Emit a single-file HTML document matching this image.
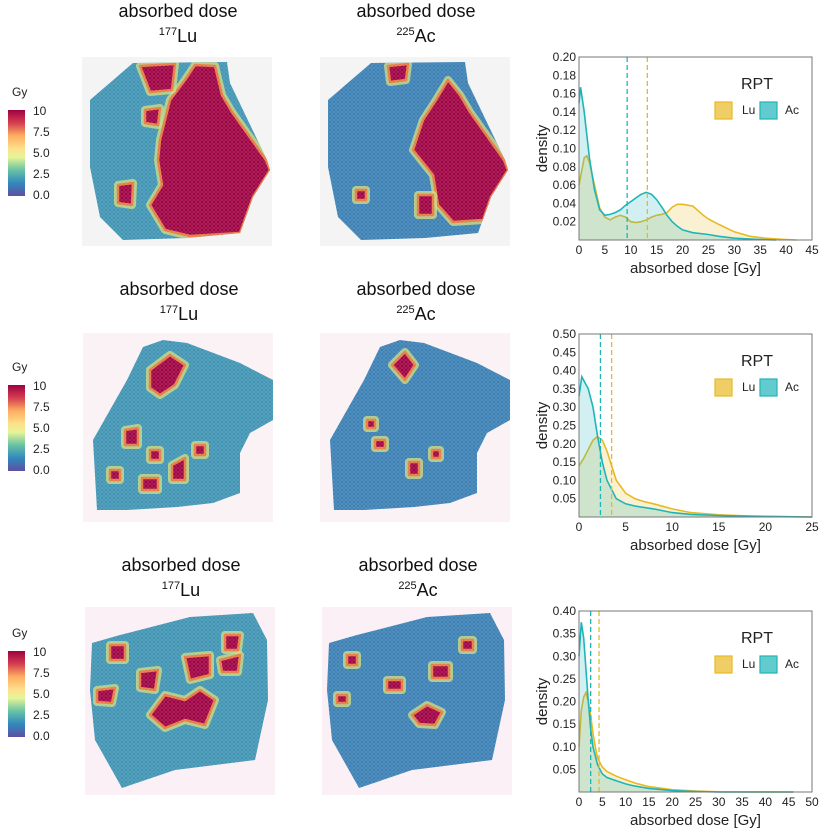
<!DOCTYPE html>
<html><head><meta charset="utf-8">
<style>
html,body{margin:0;padding:0;background:#fff;}
svg{display:block;font-family:"Liberation Sans",Arial,sans-serif;}
</style></head>
<body>
<svg id="fig" width="825" height="838" viewBox="0 0 825 838">
<defs>
<linearGradient id="cbar" x1="0" y1="1" x2="0" y2="0">
<stop offset="0" stop-color="#5e4fa2"/><stop offset="0.15" stop-color="#3288bd"/><stop offset="0.3" stop-color="#66c2a5"/>
<stop offset="0.45" stop-color="#e6f598"/><stop offset="0.55" stop-color="#fee08b"/><stop offset="0.7" stop-color="#fdae61"/>
<stop offset="0.85" stop-color="#d53e4f"/><stop offset="1" stop-color="#9e0142"/>
</linearGradient>
<pattern id="hex" width="4" height="4" patternUnits="userSpaceOnUse"><circle cx="2" cy="2" r="1.6" fill="none" stroke="#ffffff" stroke-opacity="0.18" stroke-width="0.6"/></pattern>
</defs>
<g id="maps"></g>
<g id="charts"></g>
</svg>
<script>
// ---- data ----
const luX1=[0,1,1.5,2,3,4,5,6,7,8,9,10,11,12,13,14,15,16,17,18,19,20,21,22,23,24,25,27,30,33,36,40,42];
const luY1=[0.06,0.09,0.092,0.085,0.06,0.035,0.025,0.022,0.025,0.027,0.025,0.02,0.019,0.02,0.022,0.025,0.027,0.028,0.03,0.036,0.039,0.039,0.038,0.037,0.032,0.027,0.023,0.017,0.009,0.004,0.002,0.0005,0];
const acX1=[0,0.3,1,2,3,4,5,6,7,8,9,10,11,12,13,14,15,16,17,18,19,20,22,25,27,30,35,38];
const acY1=[0.15,0.167,0.14,0.09,0.055,0.033,0.027,0.028,0.03,0.033,0.038,0.042,0.046,0.05,0.052,0.05,0.044,0.036,0.027,0.02,0.015,0.011,0.008,0.006,0.004,0.002,0.0005,0];
const luX2=[0,0.5,1,1.5,2,2.5,3,3.5,4,5,6,7,8,10,12,15,18,22,25];
const luY2=[0.14,0.16,0.185,0.21,0.22,0.21,0.18,0.14,0.1,0.065,0.05,0.042,0.036,0.022,0.012,0.006,0.003,0.001,0];
const acX2=[0,0.3,1,1.5,2,2.5,3,4,5,6,8,10,12,15,20,25];
const acY2=[0.33,0.383,0.35,0.3,0.22,0.15,0.1,0.05,0.036,0.03,0.022,0.012,0.007,0.004,0.001,0];
const luX3=[0,0.5,1,1.5,2,2.5,3,3.5,4,5,6,8,10,12,15,20,25,30,46];
const luY3=[0.1,0.18,0.21,0.22,0.2,0.17,0.13,0.1,0.075,0.055,0.045,0.035,0.027,0.02,0.012,0.005,0.002,0.0005,0];
const acX3=[0,0.5,1,1.5,2,2.5,3,4,5,6,8,10,12,15,20,25,30,46];
const acY3=[0.3,0.375,0.34,0.27,0.2,0.14,0.1,0.06,0.04,0.032,0.025,0.018,0.013,0.008,0.003,0.001,0,0];
const medians1=[13.2,9.3], medians2=[3.5,2.3], medians3=[4.3,2.5];
const yTicks1=[0.02,0.04,0.06,0.08,0.10,0.12,0.14,0.16,0.18,0.20];
const yTicks2=[0.05,0.10,0.15,0.20,0.25,0.30,0.35,0.40,0.45,0.50];
const yTicks3=[0.05,0.10,0.15,0.20,0.25,0.30,0.35,0.40];
const xTicks1=[0,5,10,15,20,25,30,35,40,45];
const xTicks2=[0,5,10,15,20,25];
const xTicks3=[0,5,10,15,20,25,30,35,40,45,50];
const cbarTicks=["0.0","2.5","5.0","7.5","10"];

const NS="http://www.w3.org/2000/svg";
function mk(tag,attrs,parent){const e=document.createElementNS(NS,tag);for(const k in attrs)e.setAttribute(k,attrs[k]);parent.appendChild(e);return e;}
const maps=document.getElementById('maps'), charts=document.getElementById('charts');
const LU="#e8b923", AC="#1fb5b8";

// ---- charts ----
const panels=[
 {top:57,bot:240,ymax:0.20,xmax:45,yt:yTicks1,xt:xTicks1,lu:[luX1,luY1],ac:[acX1,acY1],med:medians1},
 {top:334,bot:517,ymax:0.50,xmax:25,yt:yTicks2,xt:xTicks2,lu:[luX2,luY2],ac:[acX2,acY2],med:medians2},
 {top:611,bot:792,ymax:0.40,xmax:50,yt:yTicks3,xt:xTicks3,lu:[luX3,luY3],ac:[acX3,acY3],med:medians3}
];
panels.forEach((p,i)=>{
 const L=579,R=812;
 const xs=v=>L+(R-L)*v/p.xmax, ys=v=>p.bot-(p.bot-p.top)*v/p.ymax;
 const g=mk('g',{},charts);
 
 
 function area(X,Y,col,name){
  let d='M'+xs(X[0])+','+ys(0);
  X.forEach((x,j)=>{d+=' L'+xs(x).toFixed(1)+','+ys(Y[j]).toFixed(1);});
  d+=' L'+xs(X[X.length-1])+','+ys(0)+'Z';
  const a=mk('path',{d:d,fill:col,'fill-opacity':0.2,stroke:'none'},g);
  
  
  let d2='';X.forEach((x,j)=>{d2+=(j?' L':'M')+xs(x).toFixed(1)+','+ys(Y[j]).toFixed(1);});
  const l=mk('path',{d:d2,fill:'none',stroke:col,'stroke-width':1.6},g);
  
  
 }
 area(p.lu[0],p.lu[1],LU,'lu-density');
 area(p.ac[0],p.ac[1],AC,'ac-density');
 const m1=mk('line',{x1:xs(p.med[0]),x2:xs(p.med[0]),y1:p.top,y2:p.bot,stroke:LU,'stroke-dasharray':'5,3','stroke-width':1.3},g);
 
 
 const m2=mk('line',{x1:xs(p.med[1]),x2:xs(p.med[1]),y1:p.top,y2:p.bot,stroke:AC,'stroke-dasharray':'5,3','stroke-width':1.3},g);
 
 
 const fr=mk('rect',{x:L,y:p.top,width:R-L,height:p.bot-p.top,fill:'none',stroke:'#777','stroke-width':1},g);
 
 
 p.yt.forEach(v=>{
  const t=mk('text',{x:L-3,y:ys(v)+4,'text-anchor':'end','font-size':12,fill:'#222'},g);
  t.textContent=v.toFixed(2);
  
  
 });
 p.xt.forEach(v=>{
  const t=mk('text',{x:xs(v),y:p.bot+14,'text-anchor':'middle','font-size':12,fill:'#222'},g);
  t.textContent=v;
  
  
 });
 const xl=mk('text',{x:(L+R)/2,y:p.bot+33,'text-anchor':'middle','font-size':15,fill:'#222'},g);
 xl.textContent='absorbed dose [Gy]';
 
 
 const yc=(p.top+p.bot)/2;
 const yl=mk('text',{x:547,y:yc,'text-anchor':'middle','font-size':15,fill:'#222',transform:'rotate(-90 547 '+yc+')'},g);
 yl.textContent='density';
 
 
 const lg=mk('g',{},g);
 
 
 const ty=p.top+26;
 const rt=mk('text',{x:757,y:ty+6,'text-anchor':'middle','font-size':16,fill:'#222'},lg);
 rt.textContent='RPT';
 
 
 [[715,LU,'Lu',742],[760,AC,'Ac',785]].forEach(e=>{
  const b=mk('rect',{x:e[0],y:ty+19,width:17,height:17,fill:e[1],'fill-opacity':0.7,stroke:e[1],'stroke-width':1.2},lg);
  
  
  const t=mk('text',{x:e[3],y:ty+31,'font-size':12,fill:'#222'},lg);
  t.textContent=e[2];
  
  
 });
});

// ---- maps ----
// regions: polygons [points] in col-1 coordinates
const rows=[
 {bx:[82,320],by:[57,246],bg:'#f4f4f4',ty:17,base:['#3f93b3','#3a7fb3'],
  shape:[[90,100],[133,63],[227,62],[230,83],[267,160],[270,170],[253,197],[240,233],[187,238],[123,240],[100,217],[90,167]],
  red1:[[[160,140],[170,100],[185,80],[195,65],[215,66],[222,95],[232,112],[266,160],[270,170],[253,197],[240,233],[190,236],[165,230],[150,205],[162,185],[158,160]],
        [[140,66],[175,64],[172,90],[150,92]],[[118,185],[133,183],[132,205],[118,203]],[[145,110],[160,108],[158,125],[145,123]]],
  red2:[[[175,150],[185,120],[198,100],[210,80],[222,95],[232,112],[266,160],[270,170],[253,197],[245,220],[215,222],[200,205],[195,175]],
        [[150,66],[170,64],[168,80],[152,82]],[[180,195],[195,195],[195,215],[180,215]],[[118,190],[128,190],[128,200],[118,200]]]},
 {bx:[83,320],by:[333,522],bg:'#fbf2f5',ty:295,base:['#3f93b3','#3a7fb3'],
  shape:[[143,347],[163,340],[187,343],[240,363],[273,380],[273,420],[250,433],[240,453],[240,493],[213,503],[177,507],[127,510],[97,510],[93,440],[127,380]],
  red1:[[[150,370],[170,355],[185,365],[175,385],[160,395],[150,388]],[[125,430],[138,428],[138,445],[125,445]],[[172,465],[185,458],[185,480],[172,480]],[[142,478],[158,478],[158,490],[142,490]],[[150,450],[160,450],[160,460],[150,460]],[[195,445],[205,445],[205,455],[195,455]],[[110,470],[120,470],[120,480],[110,480]]],
  red2:[[[155,365],[168,352],[178,365],[168,380]],[[172,462],[182,462],[182,475],[172,475]],[[138,440],[148,440],[148,448],[138,448]],[[195,450],[203,450],[203,458],[195,458]],[[130,420],[138,420],[138,428],[130,428]]]},
 {bx:[85,322],by:[607,795],bg:'#fbf0f5',ty:571,base:['#3f93b3','#3a7fb3'],
  shape:[[92,643],[120,635],[190,617],[253,613],[267,640],[268,700],[255,760],[175,770],[122,788],[95,740],[90,690]],
  red1:[[[150,715],[165,695],[185,700],[200,690],[215,700],[205,725],[185,720],[165,728]],[[140,672],[158,670],[155,690],[140,688]],[[185,657],[210,655],[210,675],[190,680]],[[225,635],[240,635],[238,650],[225,650]],[[97,690],[115,688],[112,703],[97,702]],[[110,645],[125,645],[125,660],[110,660]],[[220,660],[240,655],[238,672],[222,672]]],
  red2:[[[175,715],[190,705],[205,712],[198,725],[182,724]],[[195,665],[212,665],[212,678],[195,678]],[[150,680],[165,680],[165,690],[150,690]],[[225,640],[236,640],[236,650],[225,650]],[[110,655],[120,655],[120,665],[110,665]],[[100,695],[110,695],[110,703],[100,703]]]}
];
rows.forEach((r,i)=>{
 [0,1].forEach(c=>{
  const dx=r.bx[c]-r.bx[0];
  const g=mk('g',{},maps);
  
  
  const bg=mk('rect',{x:r.bx[c],y:r.by[0],width:190,height:r.by[1]-r.by[0],fill:r.bg},g);
  
  
  const pts=r.shape.map(p=>(p[0]+dx)+','+p[1]).join(' ');
  const id='clip'+i+c;
  const cp=mk('clipPath',{id:id},g);mk('polygon',{points:pts},cp);
  const tis=mk('polygon',{points:pts,fill:r.base[c]},g);
  
  
  const cl=mk('g',{'clip-path':'url(#'+id+')'},g);
  (c?r.red2:r.red1).forEach(poly=>{
   const pp=poly.map(p=>(p[0]+dx)+','+p[1]).join(' ');
   mk('polygon',{points:pp,fill:'#9e0142',stroke:'#c9d97a','stroke-width':8,'stroke-linejoin':'round','stroke-opacity':0.8},cl);
   mk('polygon',{points:pp,fill:'#9e0142',stroke:'#e8763f','stroke-width':2.5,'stroke-linejoin':'round'},cl);
  });
  mk('polygon',{points:pts,fill:'url(#hex)'},g);
  const cx=r.bx[c]+96;
  const t1=mk('text',{x:cx,y:r.ty,'text-anchor':'middle','font-size':18,fill:'#111'},g);
  t1.textContent='absorbed dose';
  
  
  const t2=mk('text',{x:cx,y:r.ty+25,'text-anchor':'middle','font-size':18,fill:'#111'},g);
  const s=mk('tspan',{'font-size':11,dy:-7},t2);s.textContent=c?'225':'177';
  const s2=mk('tspan',{dy:7},t2);s2.textContent=c?'Ac':'Lu';
  
  
 });
 const cy=[110,385,651][i];
 const cg=mk('g',{},maps);
 
 
 const gy=mk('text',{x:12,y:cy-14,'font-size':12,fill:'#222'},cg);gy.textContent='Gy';
 
 
 mk('rect',{x:8,y:cy,width:17,height:86,fill:'url(#cbar)'},cg);
 cbarTicks.forEach((t,k)=>{
  const e=mk('text',{x:33,y:cy+86-k*21+3,'font-size':12,fill:'#222'},cg);e.textContent=t;
  
  
 });
});
</script>
</body></html>
